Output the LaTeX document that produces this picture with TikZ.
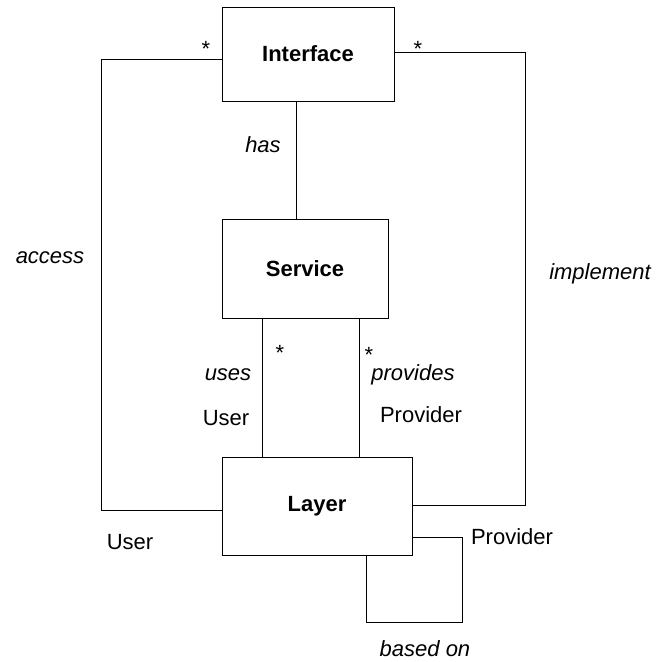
\documentclass[tikz,border=0pt]{standalone}
\usepackage{fontspec}
\setmainfont{Liberation Sans}
\usetikzlibrary{calc}
\tikzset{
  cls/.style={rectangle,draw=black,line width=1pt,inner sep=0pt,font=\fontsize{22}{26}\selectfont\bfseries},
  role/.style={inner sep=0pt,font=\fontsize{22}{26}\selectfont\itshape},
  rname/.style={inner sep=0pt,font=\fontsize{22}{26}\selectfont},
  mult/.style={inner sep=0pt,anchor=base,font=\fontsize{22}{26}\selectfont},
  link/.style={line width=1pt},
}

\begin{document}
\begin{tikzpicture}[x=1pt,y=-1pt]
\useasboundingbox (0,0) rectangle (658,662);
% classes
\node[cls,minimum width=172pt,minimum height=94pt] (iface) at (308,54) {Interface};
\node[cls,minimum width=166pt,minimum height=99pt] (serv) at (305,268.5) {Service};
\node[cls,minimum width=190pt,minimum height=98pt] (layer) at (317,506) {Layer};
% associations
\draw[link] ([xshift=-12pt]iface.south) -- ([xshift=-9pt]serv.north);
\draw[link] ([xshift=-43pt]serv.south) -- ([xshift=-55pt]layer.north);
\draw[link] ([xshift=54pt]serv.south) -- ([xshift=42pt]layer.north);
\draw[link] ([yshift=-5pt]iface.west) -- ++(-120,0) |- ([yshift=-4pt]layer.west);
\draw[link] ([yshift=2pt]iface.east) -- ++(131,0) |- ([yshift=1pt]layer.east);
\draw[link] ([yshift=-31pt]layer.east) -| ++(50,85) -| ([xshift=49pt]layer.south);
% association names
\node[role] (hasL) at (263,145) {has};
\node[role] (accL) at (50,258) {access};
\node[role] (implL) at (600,274) {implement};
\node[role] (usesL) at (228,375) {uses};
\node[role] (provL) at (413,375) {provides};
\node[role] (baseL) at (425,649) {based on};
% role names
\node[rname] (userA) at (226,418) {User};
\node[rname] (provA) at (421,415) {Provider};
\node[rname] (userB) at (130,542) {User};
\node[rname] (provB) at (512,537) {Provider};
% multiplicities
\node[mult] (m1) at (206,56) {*};
\node[mult] (m2) at (418,56) {*};
\node[mult] (m3) at (280,360) {*};
\node[mult] (m4) at (369,362) {*};
\end{tikzpicture}
\end{document}
